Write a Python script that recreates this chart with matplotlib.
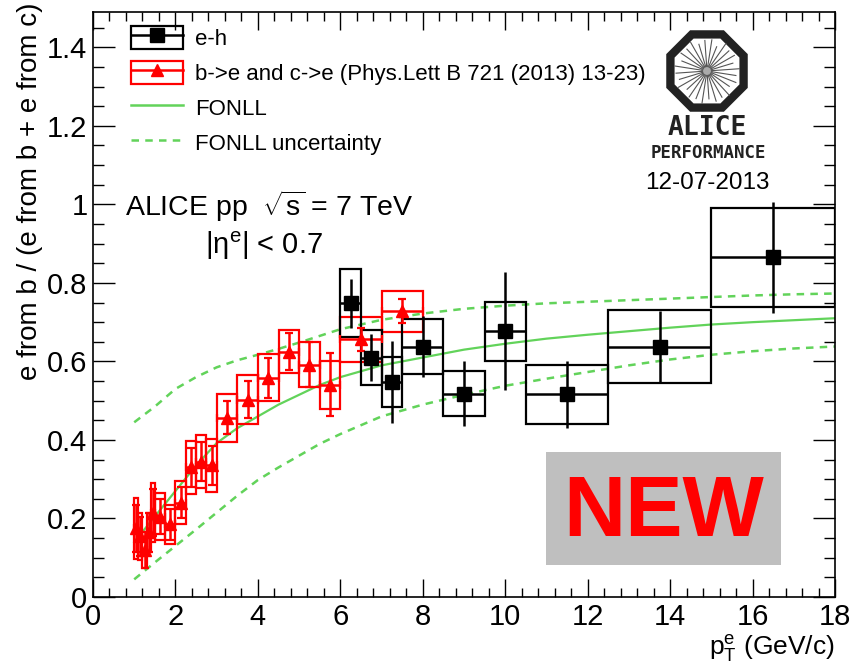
import numpy as np
import matplotlib
matplotlib.use("Agg")
import matplotlib.pyplot as plt
from matplotlib.patches import Rectangle, RegularPolygon
from matplotlib.lines import Line2D
from matplotlib.legend_handler import HandlerTuple
from matplotlib.ticker import MultipleLocator, FuncFormatter

plt.rcParams['font.family'] = ['Liberation Sans', 'DejaVu Sans']
plt.rcParams['mathtext.fontset'] = 'custom'
plt.rcParams['mathtext.rm'] = 'Liberation Sans'
plt.rcParams['mathtext.it'] = 'Liberation Sans:italic'
plt.rcParams['mathtext.sf'] = 'Liberation Sans'

# e-h correlation measurement (black)
eh_lo = [6.0, 6.5, 7.0, 7.5, 8.5, 9.5, 10.5, 12.5, 15.0]
eh_hi = [6.5, 7.0, 7.5, 8.5, 9.5, 10.5, 12.5, 15.0, 18.0]
eh_y = [0.748, 0.61, 0.548, 0.638, 0.518, 0.677, 0.516, 0.637, 0.865]
eh_stat = [0.062, 0.06, 0.104, 0.077, 0.083, 0.15, 0.086, 0.092, 0.141]
eh_sys = [0.087, 0.07, 0.063, 0.07, 0.058, 0.075, 0.076, 0.093, 0.127]

# b->e and c->e, Phys.Lett B 721 (red)
be_lo = [1.0, 1.1, 1.2, 1.3, 1.4, 1.5, 1.75, 2.0, 2.25, 2.5, 2.75, 3.0, 3.5, 4.0, 4.5, 5.0, 5.5, 6.0, 7.0]
be_hi = [1.1, 1.2, 1.3, 1.4, 1.5, 1.75, 2.0, 2.25, 2.5, 2.75, 3.0, 3.5, 4.0, 4.5, 5.0, 5.5, 6.0, 7.0, 8.0]
be_y = [0.175, 0.155, 0.12, 0.165, 0.215, 0.205, 0.185, 0.24, 0.33, 0.345, 0.335,
        0.456, 0.503, 0.558, 0.625, 0.592, 0.541, 0.656, 0.728]
be_stat = [0.06, 0.05, 0.045, 0.05, 0.06, 0.045, 0.04, 0.04, 0.05, 0.05, 0.05,
           0.042, 0.048, 0.052, 0.047, 0.057, 0.08, 0.03, 0.03]
be_sys = [0.077, 0.06, 0.045, 0.05, 0.075, 0.06, 0.05, 0.055, 0.068, 0.068, 0.068,
          0.06, 0.062, 0.06, 0.054, 0.057, 0.061, 0.057, 0.052]

# FONLL prediction
fonll_pt = [1, 1.5, 2, 2.5, 3, 3.5, 4, 4.5, 5, 5.5, 6, 7, 8, 9, 10, 11, 12, 13, 14, 15, 16, 17, 18]
fonll_c = [0.14, 0.205, 0.27, 0.335, 0.392, 0.43, 0.46, 0.49, 0.515, 0.54, 0.56, 0.59, 0.61,
           0.63, 0.645, 0.658, 0.668, 0.677, 0.686, 0.694, 0.7, 0.705, 0.71]
fonll_up = [0.445, 0.485, 0.53, 0.56, 0.585, 0.603, 0.617, 0.632, 0.648, 0.665, 0.682, 0.706,
            0.722, 0.734, 0.742, 0.748, 0.752, 0.756, 0.76, 0.764, 0.768, 0.771, 0.773]
fonll_lo = [0.045, 0.088, 0.13, 0.172, 0.215, 0.258, 0.298, 0.33, 0.36, 0.39, 0.415, 0.46,
            0.49, 0.515, 0.538, 0.556, 0.573, 0.59, 0.605, 0.617, 0.626, 0.633, 0.638]

green = '#62d35a'
dash = (0, (3, 2.5))

W, H = 851, 664
fig = plt.figure(figsize=(W / 100, H / 100), dpi=100)
ax = fig.add_axes([93 / W, 1 - 597 / H, (835 - 93) / W, (597 - 12) / H])
ax.set_xlim(0, 18)
ax.set_ylim(0, 1.49)

ax.plot(fonll_pt, fonll_up, color=green, lw=1.8, ls=dash)
ax.plot(fonll_pt, fonll_lo, color=green, lw=1.8, ls=dash)
ax.plot(fonll_pt, fonll_c, color=green, lw=1.6)

def draw_points(lo, hi, y, stat, sys, color, marker, ms, caps):
    lo, hi, y = np.array(lo), np.array(hi), np.array(y)
    for a, b, v, s in zip(lo, hi, y, sys):
        ax.add_patch(Rectangle((a, v - s), b - a, 2 * s, fill=False,
                               edgecolor=color, lw=1.6, zorder=3))
    xc = (lo + hi) / 2
    ax.errorbar(xc, y, xerr=(hi - lo) / 2, yerr=stat, fmt=marker, color=color,
                ms=ms, elinewidth=1.8, capsize=caps, capthick=1.6, zorder=4)

draw_points(be_lo, be_hi, be_y, be_stat, be_sys, 'red', '^', 8.5, 3)
draw_points(eh_lo, eh_hi, eh_y, eh_stat, eh_sys, 'black', 's', 10, 0)

# axes styling (ROOT-like)
ax.xaxis.set_major_locator(MultipleLocator(2))
ax.xaxis.set_minor_locator(MultipleLocator(0.4))
ax.yaxis.set_major_locator(MultipleLocator(0.2))
ax.yaxis.set_minor_locator(MultipleLocator(0.05))
ax.yaxis.set_major_formatter(FuncFormatter(lambda v, p: '%g' % round(v, 2)))
ax.tick_params(which='both', direction='in', top=True, right=True, width=1.0, labelsize=21)
ax.tick_params(axis='x', which='major', length=13, pad=4)
ax.tick_params(axis='x', which='minor', length=6.5)
ax.tick_params(axis='y', which='major', length=16, pad=4)
ax.tick_params(axis='y', which='minor', length=8)
for sp in ax.spines.values():
    sp.set_linewidth(1.2)

fig.text(835 / W, 1 - 648 / H, r'$\mathrm{p}_{\mathrm{T}}^{\mathrm{e}}$ (GeV/c)',
         ha='right', va='center', fontsize=19)
fig.text(30 / W, 1 - 3 / H, 'e from b / (e from b + e from c)', rotation=90,
         ha='center', va='top', fontsize=20)

# legend
h_eh = (Rectangle((0, 0), 1, 1, fill=False, edgecolor='black', lw=1.6),
        Line2D([], [], color='black', marker='s', ms=10, lw=1.8))
h_be = (Rectangle((0, 0), 1, 1, fill=False, edgecolor='red', lw=1.6),
        Line2D([], [], color='red', marker='^', ms=9, lw=1.8))
h_f = Line2D([], [], color=green, lw=1.8)
h_fu = Line2D([], [], color=green, lw=1.8, ls=dash)
fig.legend([h_eh, h_be, h_f, h_fu],
           ['e-h', 'b->e and c->e (Phys.Lett B 721 (2013) 13-23)', 'FONLL', 'FONLL uncertainty'],
           handler_map={tuple: HandlerTuple(ndivide=1, pad=0)},
           loc='upper left', bbox_to_anchor=(131 / W, 1 - 26 / H), frameon=False,
           fontsize=16, handlelength=2.35, handleheight=1.2, labelspacing=0.5,
           handletextpad=0.55, borderaxespad=0, borderpad=0)

fig.text(125 / W, 1 - 206 / H, r'ALICE pp  $\sqrt{\mathrm{s}}$ = 7 TeV', ha='left',
         va='center', fontsize=20.5)
fig.text(205 / W, 1 - 246 / H, r'$|\mathrm{\eta}^{\mathrm{e}}|$ < 0.7', ha='left',
         va='center', fontsize=21)

# NEW label
fig.patches.append(Rectangle((546 / W, 1 - 565 / H), 235 / W, 113 / H,
                             transform=fig.transFigure, facecolor='#bfbfbf',
                             edgecolor='none', zorder=5))
fig.text(664 / W, 1 - 514 / H, 'NEW', color='red', fontsize=62, fontweight='bold',
         ha='center', va='center', zorder=6)

# ALICE logo
lax = fig.add_axes([662 / W, 1 - 116 / H, 90 / W, 90 / H])
lax.set_xlim(-1, 1)
lax.set_ylim(-1, 1)
lax.axis('off')
lax.add_patch(RegularPolygon((0, 0), 8, radius=0.88, orientation=np.pi / 8,
                             fill=False, edgecolor='#222222', lw=6))
ang = np.linspace(0, 2 * np.pi, 28, endpoint=False) + 0.07
rad = [0.72, 0.6, 0.7, 0.66, 0.74, 0.58, 0.7, 0.68, 0.62, 0.73, 0.66, 0.7, 0.6, 0.72,
       0.69, 0.64, 0.73, 0.6, 0.7, 0.66, 0.72, 0.62, 0.7, 0.67, 0.73, 0.6, 0.69, 0.65]
for a, r in zip(ang, rad):
    lax.plot([0.1 * np.cos(a), r * np.cos(a)], [0.1 * np.sin(a), r * np.sin(a)],
             color='#555555', lw=0.8)
lax.add_patch(plt.Circle((0, 0), 0.12, color='#aaaaaa'))
fig.text(707 / W, 1 - 128 / H, 'ALICE', ha='center', va='center', fontsize=19,
         family='DejaVu Sans Mono', fontweight='bold', color='#222222')
fig.text(708 / W, 1 - 153 / H, 'PERFORMANCE', ha='center', va='center', fontsize=12.5,
         family='DejaVu Sans Mono', fontweight='bold', color='#222222')
fig.text(707 / W, 1 - 183 / H, '12-07-2013', ha='center', va='center', fontsize=17.5)

fig.savefig('out.png', dpi=100)
